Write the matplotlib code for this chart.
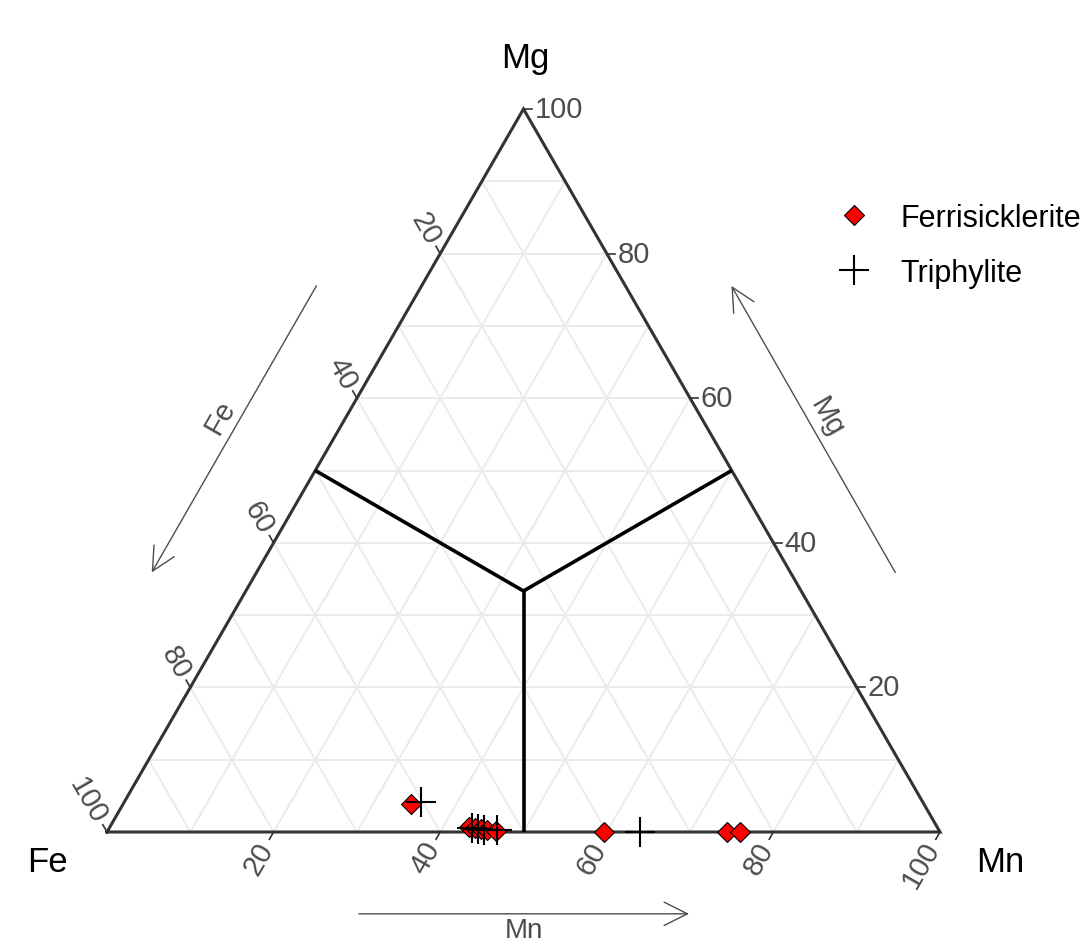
import numpy as np
import matplotlib.pyplot as plt

plt.rcParams['font.family'] = ['Liberation Sans', 'DejaVu Sans']

# compositions in percent (Fe, Mn, Mg)
fer_fe = [61.6, 56.2, 55.55, 54.9, 54.2, 53.3, 40.3, 25.6, 24.0]
fer_mn = [34.5, 43.1, 43.9, 44.7, 45.5, 46.6, 59.7, 74.4, 76.0]
fer_mg = [3.9, 0.7, 0.55, 0.4, 0.3, 0.1, 0.0, 0.0, 0.0]

tri_fe = [60.3, 55.95, 55.3, 54.6, 53.0, 36.0]
tri_mn = [35.6, 43.5, 44.3, 45.1, 46.7, 64.0]
tri_mg = [4.1, 0.55, 0.4, 0.3, 0.3, 0.0]

tick_values = [20, 40, 60, 80, 100]
grid_values = np.arange(10, 100, 10)

H = np.sqrt(3) / 2
GRID = '#ebebeb'
AXIS = '#333333'
TXT = '#4d4d4d'


def tern(fe, mn, mg):
    fe, mn, mg = (np.asarray(v, dtype=float) for v in (fe, mn, mg))
    tot = fe + mn + mg
    mn, mg = mn / tot, mg / tot
    return mn + mg / 2, mg * H


fig = plt.figure(figsize=(10.88, 9.45), dpi=100)
ax = fig.add_axes([107 / 1088, 112 / 945, 833 / 1088, 723 / 945])
ax.set_xlim(0, 1)
ax.set_ylim(0, H)
ax.axis('off')

# grid
for g in grid_values:
    for a, b in [((100 - g, 0, g), (0, 100 - g, g)),      # Mg const
                 ((100 - g, g, 0), (0, g, 100 - g)),      # Mn const
                 ((g, 100 - g, 0), (g, 0, 100 - g))]:     # Fe const
        xa, ya = tern(*a)
        xb, yb = tern(*b)
        ax.plot([xa, xb], [ya, yb], color=GRID, lw=1.4, zorder=1)

# triangle border
bx, by = tern([100, 0, 0, 100], [0, 100, 0, 0], [0, 0, 100, 0])
ax.plot(bx, by, color=AXIS, lw=2.2, zorder=3, clip_on=False,
        solid_joinstyle='miter')

# field boundaries from the centroid to the edge midpoints
cx, cy = tern(1, 1, 1)
for end in [(50, 0, 50), (0, 50, 50), (50, 50, 0)]:
    ex, ey = tern(*end)
    ax.plot([cx, ex], [cy, ey], color='black', lw=2.6, zorder=3,
            solid_capstyle='butt')

# ticks and tick labels
tl = 0.010
off = 0.016
fs_tick = 21
for v in tick_values:
    # Fe, left edge
    px, py = tern(v, 0, 100 - v)
    d = np.array([-0.5, H])
    ax.plot([px, px + tl * d[0]], [py, py + tl * d[1]], color=AXIS, lw=1.2,
            clip_on=False)
    ax.text(px + off * d[0], py + off * d[1], str(v), rotation=-60,
            rotation_mode='anchor', ha='right', va='center', color=TXT,
            fontsize=fs_tick)
    # Mn, bottom edge
    px, py = tern(100 - v, v, 0)
    d = np.array([-0.5, -H])
    ax.plot([px, px + tl * d[0]], [py, py + tl * d[1]], color=AXIS, lw=1.2,
            clip_on=False)
    ax.text(px + off * d[0], py + off * d[1], str(v), rotation=60,
            rotation_mode='anchor', ha='right', va='center', color=TXT,
            fontsize=fs_tick)
    # Mg, right edge
    px, py = tern(0, 100 - v, v)
    ax.plot([px, px + tl], [py, py], color=AXIS, lw=1.2, clip_on=False)
    ax.text(px + 0.013, py, str(v), ha='left', va='center', color=TXT,
            fontsize=fs_tick)

# axis arrows and titles
arrow = dict(arrowstyle='->', color=TXT, lw=1.0, mutation_scale=42)
ax.annotate('', xy=(0.052, 0.308), xytext=(0.253, 0.657),
            arrowprops=arrow, annotation_clip=False)
ax.text(0.136, 0.498, 'Fe', rotation=60, ha='center', va='center',
        color=TXT, fontsize=fs_tick)
ax.annotate('', xy=(0.748, 0.657), xytext=(0.948, 0.308),
            arrowprops=arrow, annotation_clip=False)
ax.text(0.864, 0.498, 'Mg', rotation=-60, ha='center', va='center',
        color=TXT, fontsize=fs_tick)
ax.annotate('', xy=(0.702, -0.098), xytext=(0.299, -0.098),
            arrowprops=arrow, annotation_clip=False)
ax.text(0.5, -0.102, 'Mn', ha='center', va='top', color=TXT,
        fontsize=20)

# corner labels
ax.text(0.502, 0.928, 'Mg', ha='center', va='center', fontsize=25)
ax.text(-0.072, -0.035, 'Fe', ha='center', va='center', fontsize=25)
ax.text(1.072, -0.035, 'Mn', ha='center', va='center', fontsize=25)

# data
fx, fy = tern(fer_fe, fer_mn, fer_mg)
ax.plot(fx, fy, 'D', ms=10.5, mfc='red', mec='black', mew=0.8,
        ls='none', zorder=5, clip_on=False, label='Ferrisicklerite')
tx, ty = tern(tri_fe, tri_mn, tri_mg)
ax.plot(tx, ty, '+', ms=22, mec='black', mew=1.5,
        ls='none', zorder=6, clip_on=False, label='Triphylite')

ax.legend(loc='upper left', bbox_to_anchor=(0.765, 0.784),
          bbox_transform=fig.transFigure, frameon=False, fontsize=22,
          handlelength=1.4, handletextpad=0.84, labelspacing=0.8,
          borderaxespad=0, borderpad=0)

fig.savefig('out.png', dpi=100)
